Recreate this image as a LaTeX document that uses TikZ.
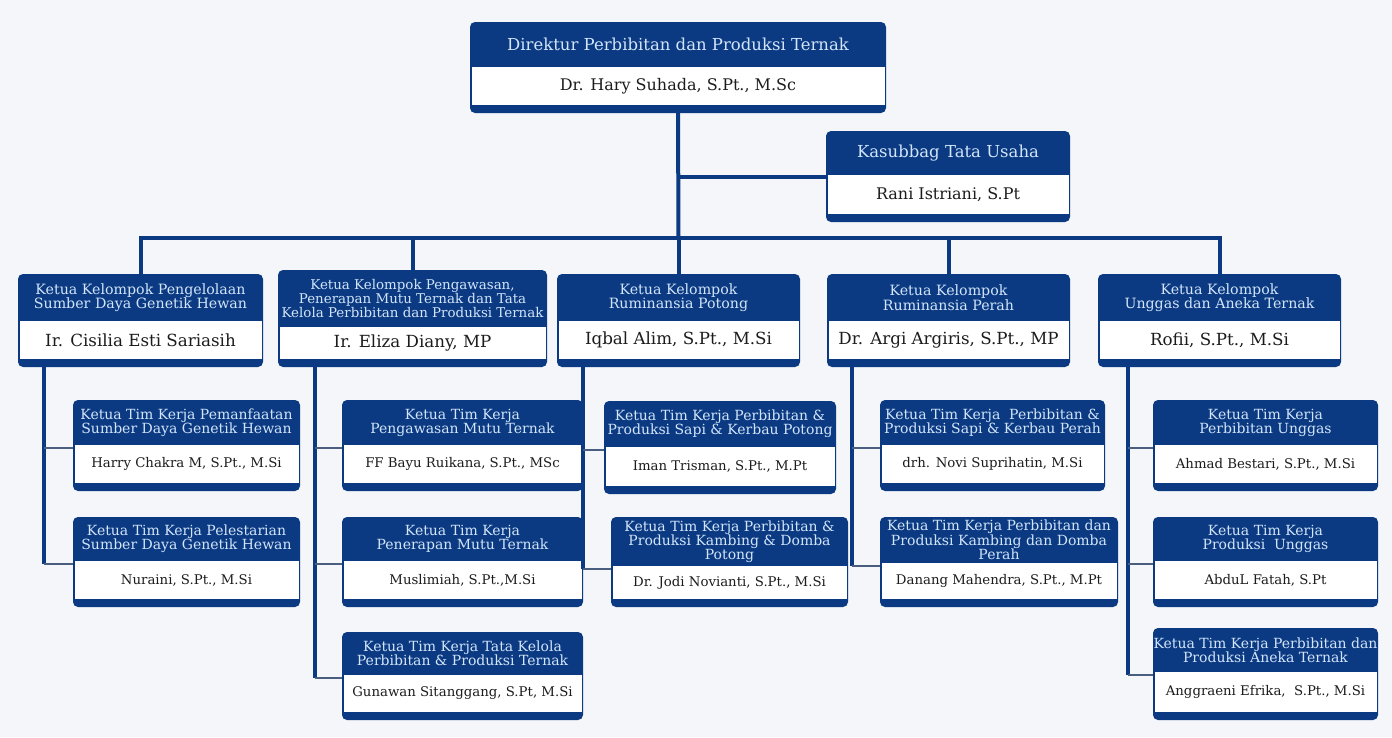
\documentclass[tikz,border=0pt]{standalone}
\usepackage{fontspec}
\setmainfont{DejaVu Serif}
\usetikzlibrary{fit}
\definecolor{navy}{HTML}{0B3A82}
\definecolor{hdtext}{HTML}{D2E5FA}
\definecolor{nmtext}{HTML}{1C1C1C}
\definecolor{bgc}{HTML}{F4F6F9}
\definecolor{tiec}{HTML}{4A5E80}
\def\hfs{\fontsize{12.5}{13.5}\selectfont}
\def\nfs{\fontsize{13}{14}\selectfont}
\tikzset{
  hdr/.style={text=hdtext, align=center, font=\hfs, inner sep=0pt},
  nm/.style={text=nmtext, align=center, font=\nfs, inner sep=0pt},
  mainline/.style={draw=navy, line width=4pt},
  subline/.style={draw=navy, line width=3.5pt},
  tieline/.style={draw=tiec, line width=2pt},
}
\newcommand\obox[8]{%
  \fill[navy, rounded corners=5pt] (#2,#3) rectangle (#4,#5);
  \fill[white] (#2+1.5,#6) rectangle (#4-1.5,#5-8);
  \node[hdr] (#1-h) at ({(#2+#4)/2},{(#3+#6)/2}) {#7};
  \node[nm] (#1-n) at ({(#2+#4)/2},{(#6+#5-8)/2}) {#8};
  \coordinate (#1-nw) at (#2,#3);
  \coordinate (#1-se) at (#4,#5);
  \node[fit=(#1-nw)(#1-se), inner sep=0pt] (#1) {};
  \coordinate (#1-j) at (#2,#6+3);
}
\begin{document}
\begin{tikzpicture}[x=1pt,y=-1pt]
\fill[bgc] (0,0) rectangle (1392,737);
\useasboundingbox (0,0) rectangle (1392,737);

% top level
\def\hfs{\fontsize{16.5}{18}\selectfont}
\def\nfs{\fontsize{16}{18}\selectfont}
\obox{dir}{470}{22}{886}{113}{67}{Direktur Perbibitan dan Produksi Ternak}{Dr. Hary Suhada, S.Pt., M.Sc}
\obox{ks}{826}{131}{1070}{222}{175}{Kasubbag Tata Usaha}{Rani Istriani, S.Pt}

% groups
\def\hfs{\fontsize{14.2}{14.5}\selectfont}
\def\nfs{\fontsize{16.7}{18}\selectfont}
\obox{c1}{18}{274}{263}{367}{321}{Ketua Kelompok Pengelolaan\\Sumber Daya Genetik Hewan}{Ir. Cisilia Esti Sariasih}
\def\hfs{\fontsize{13.4}{14}\selectfont}
\obox{c2}{278}{270}{547}{367}{327}{Ketua Kelompok Pengawasan,\\Penerapan Mutu Ternak dan Tata\\Kelola Perbibitan dan Produksi Ternak}{Ir. Eliza Diany, MP}
\def\hfs{\fontsize{14.2}{14.5}\selectfont}
\obox{c3}{557}{274}{800}{367}{321}{Ketua Kelompok\\Ruminansia Potong}{Iqbal Alim, S.Pt., M.Si}
\obox{c4}{827}{274}{1070}{367}{321}{Ketua Kelompok\\Ruminansia Perah}{Dr. Argi Argiris, S.Pt., MP}
\obox{c5}{1098}{274}{1341}{367}{321}{Ketua Kelompok\\Unggas dan Aneka Ternak}{Rofii, S.Pt., M.Si}

% teams
\def\hfs{\fontsize{14}{14}\selectfont}
\def\nfs{\fontsize{13.3}{14}\selectfont}
\obox{k11}{73}{400}{300}{491}{445}{Ketua Tim Kerja Pemanfaatan\\Sumber Daya Genetik Hewan}{Harry Chakra M, S.Pt., M.Si}
\obox{k12}{73}{517}{300}{607}{561}{Ketua Tim Kerja Pelestarian\\Sumber Daya Genetik Hewan}{Nuraini, S.Pt., M.Si}
\obox{k21}{342}{400}{583}{491}{445}{Ketua Tim Kerja\\Pengawasan Mutu Ternak}{FF Bayu Ruikana, S.Pt., MSc}
\obox{k22}{342}{517}{583}{607}{561}{Ketua Tim Kerja\\Penerapan Mutu Ternak}{Muslimiah, S.Pt.,M.Si}
\obox{k23}{342}{632}{583}{720}{675}{Ketua Tim Kerja Tata Kelola\\Perbibitan \& Produksi Ternak}{Gunawan Sitanggang, S.Pt, M.Si}
\obox{k31}{604}{401}{836}{494}{447}{Ketua Tim Kerja Perbibitan \&\\Produksi Sapi \& Kerbau Potong}{Iman Trisman, S.Pt., M.Pt}
\def\hfs{\fontsize{14}{13.5}\selectfont}
\obox{k32}{611}{517}{848}{607}{566}{Ketua Tim Kerja Perbibitan \&\\Produksi Kambing \& Domba\\Potong}{Dr. Jodi Novianti, S.Pt., M.Si}
\def\hfs{\fontsize{14}{14}\selectfont}
\obox{k41}{880}{400}{1105}{491}{445}{Ketua Tim Kerja\ \ Perbibitan \&\\Produksi Sapi \& Kerbau Perah}{drh. Novi Suprihatin, M.Si}
\def\hfs{\fontsize{14}{13.5}\selectfont}
\obox{k42}{880}{517}{1118}{607}{563}{Ketua Tim Kerja Perbibitan dan\\Produksi Kambing dan Domba\\Perah}{Danang Mahendra, S.Pt., M.Pt}
\def\hfs{\fontsize{14}{14}\selectfont}
\obox{k51}{1153}{400}{1378}{491}{445}{Ketua Tim Kerja\\Perbibitan Unggas}{Ahmad Bestari, S.Pt., M.Si}
\obox{k52}{1153}{517}{1378}{607}{561}{Ketua Tim Kerja\\Produksi\ \ Unggas}{AbduL Fatah, S.Pt}
\obox{k53}{1153}{628}{1378}{720}{672}{Ketua Tim Kerja Perbibitan dan\\Produksi Aneka Ternak}{Anggraeni Efrika,\ \ S.Pt., M.Si}

% main connectors
\coordinate (bus) at (678.5,238);
\draw[mainline] (dir.south) -- (bus);
\draw[mainline] (dir.south |- ks.west) -- (ks.west);
\draw[mainline] (c1.north) |- (bus) -| (c5.north);
\draw[mainline] (c2.north) -- (c2.north |- bus);
\draw[mainline] (c3.north) -- (bus);
\draw[mainline] (c4.north) -- (c4.north |- bus);

% column connectors
\coordinate (v1) at (44,367);
\coordinate (v2) at (315,367);
\coordinate (v3) at (583,367);
\coordinate (v4) at (852,367);
\coordinate (v5) at (1128,367);
\draw[subline] (v1) -- (v1 |- k12-j);
\draw[tieline] (v1 |- k11-j) -- (k11-j);
\draw[tieline] (v1 |- k12-j) -- (k12-j);
\draw[subline] (v2) -- (v2 |- k23-j);
\draw[tieline] (v2 |- k21-j) -- (k21-j);
\draw[tieline] (v2 |- k22-j) -- (k22-j);
\draw[tieline] (v2 |- k23-j) -- (k23-j);
\draw[subline] (v3) -- (v3 |- k32-j);
\draw[tieline] (v3 |- k31-j) -- (k31-j);
\draw[tieline] (v3 |- k32-j) -- (k32-j);
\draw[subline] (v4) -- (v4 |- k42-j);
\draw[tieline] (v4 |- k41-j) -- (k41-j);
\draw[tieline] (v4 |- k42-j) -- (k42-j);
\draw[subline] (v5) -- (v5 |- k53-j);
\draw[tieline] (v5 |- k51-j) -- (k51-j);
\draw[tieline] (v5 |- k52-j) -- (k52-j);
\draw[tieline] (v5 |- k53-j) -- (k53-j);
\end{tikzpicture}
\end{document}
